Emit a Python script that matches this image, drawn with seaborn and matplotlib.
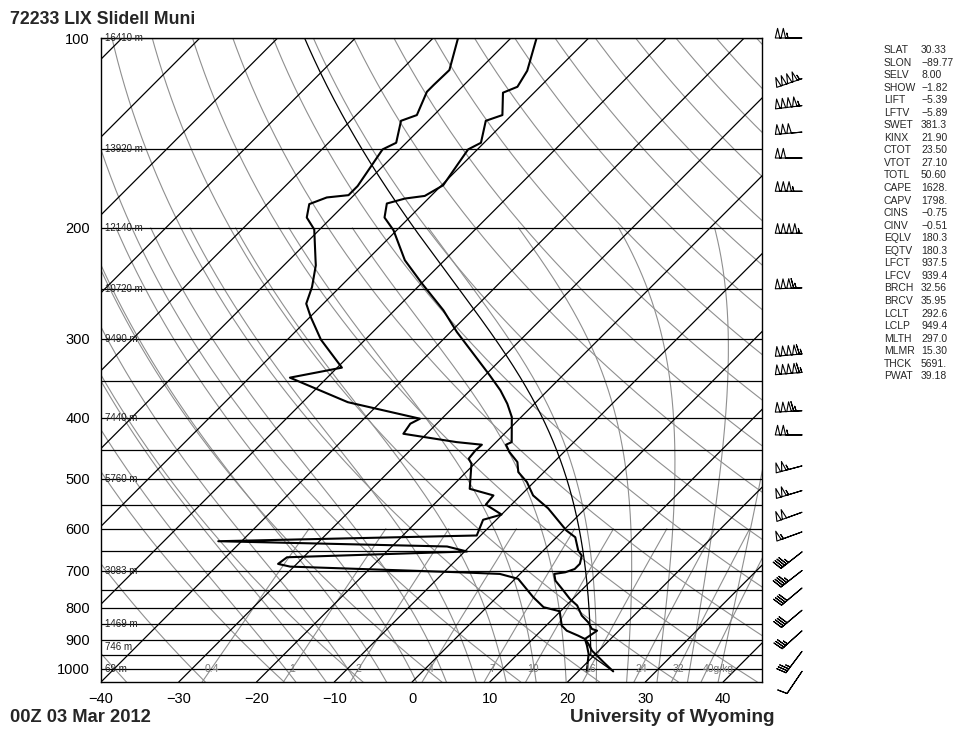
import numpy as np
import pandas as pd
import matplotlib
matplotlib.use("Agg")
import matplotlib.pyplot as plt
import seaborn as sns

# ---- sounding values (hPa, degC) ----
temp_pres = [100, 112.7, 119.5, 122.1, 132.5, 135.3, 146.6, 150.2, 171.2, 178, 179.7, 183,
             192.6, 201.8, 225.1, 245.1, 270.3, 292.5, 316.6, 342.7, 362, 380.1, 399.1,
             437.3, 441.5, 453.6, 470.4, 487.9, 506.1, 531.3, 557, 604, 619, 650, 662, 682,
             695, 703.5, 707.6, 725, 747, 775, 794, 824, 844.5, 865, 870.6, 897.3, 913.8,
             936.4, 953.6, 977, 1010]
temp_c = [-66.7, -63.7, -62.9, -64.0, -61.2, -62.6, -60.4, -61.2, -59.8, -60.8, -63.0, -64.7,
          -63.2, -60.4, -55.1, -49.9, -43.7, -39.2, -34.3, -29.4, -26.1, -23.5, -21.2,
          -18.0, -18.4, -17.0, -14.7, -13.3, -10.9, -8.4, -4.8, 0.4, 2.4, 4.5, 5.6, 6.4,
          6.4, 5.6, 4.4, 5.4, 7.3, 9.6, 11.4, 13.3, 15.0, 16.3, 17.2, 16.7, 17.8,
          19.1, 20.4, 22.1, 24.5]

dewp_pres = [100, 112.4, 118.7, 121.7, 132.5, 135.3, 146.6, 150.2, 171.7, 177.5, 179, 183.4,
             192.6, 201.2, 225, 229.3, 248.2, 263.8, 277, 300.8, 333.2, 345.6, 378, 401.5,
             408.9, 424.2, 437.3, 441.5, 450.8, 464.6, 473.2, 518.6, 531.3, 549.3, 569.7,
             580.7, 615, 628, 640.2, 652, 665.9, 682.2, 689, 703.5, 707.6, 720.5, 770.5,
             799, 811, 854.5, 870.6, 886.5, 897.3, 919, 947.7, 1010]
dewp_c = [-76.8, -73.8, -73.9, -73.9, -72.2, -73.5, -71.3, -72.2, -70.7, -70.7, -73.2, -74.6,
          -73.2, -70.7, -66.6, -65.9, -63.6, -62.2, -59.9, -55.7, -49.4, -54.8, -44.2, -32.8,
          -33.4, -33.0, -25.1, -21.5, -21.6, -21.4, -20.4, -17.4, -13.5, -13.3, -10.0,
          -11.7, -10.5, -43.0, -12.9, -9.7, -32.1, -32.4, -30.5, -7.9, -2.6, 0.4, 4.7,
          7.3, 9.9, 12.0, 13.3, 15.4, 16.7, 17.8, 19.1, 21.1]

# parcel
sfc_pres, sfc_temp = 1010.0, 24.5
lcl_pres, lcl_temp = 949.4, 19.45

height_pres = [100, 150, 200, 250, 300, 400, 500, 700, 850, 925, 1000]
height_lbl = ["16410 m", "13920 m", "12140 m", "10720 m", "9490 m", "7440 m",
              "5760 m", "3083 m", "1469 m", "746 m", "69 m"]

isobars = [100, 150, 200, 250, 300, 350, 400, 450, 500, 550, 600, 650, 700,
           750, 800, 850, 900, 950, 1000]
isotherms = list(range(-130, 50, 10))
dry_theta = list(range(-40, 200, 10))
moist_t1000 = list(range(-18, 40, 4))
mix_ratio = [0.4, 1, 2, 4, 7, 10, 16, 24, 32, 40]
mix_lbl = ["0.4", "1", "2", "4", "7", "10", "16", "24", "32", "40g/kg"]

wind_pres = [100, 116, 128, 141, 155, 175, 204, 249, 317, 339, 390, 426, 477, 522,
             565, 607, 653, 699, 745, 808, 871, 939, 1010]
wind_dir = [270, 251, 263, 265, 270, 270, 270, 268, 265, 265, 267, 270, 255, 253,
            250, 250, 232, 232, 230, 230, 228, 217, 214]
wind_kt = [105, 205, 205, 150, 100, 155, 205, 165, 215, 215, 165, 105, 105, 105,
           100, 55, 45, 45, 40, 40, 35, 35, 10]

index_names = ["SLAT", "SLON", "SELV", "SHOW", "LIFT", "LFTV", "SWET", "KINX", "CTOT",
               "VTOT", "TOTL", "CAPE", "CAPV", "CINS", "CINV", "EQLV", "EQTV", "LFCT",
               "LFCV", "BRCH", "BRCV", "LCLT", "LCLP", "MLTH", "MLMR", "THCK", "PWAT"]
index_values = ["30.33", "\u221289.77", "8.00", "\u22121.82", "\u22125.39", "\u22125.89",
                "381.3", "21.90", "23.50", "27.10", "50.60", "1628.", "1798.",
                "\u22120.75", "\u22120.51", "180.3", "180.3", "937.5", "939.4", "32.56",
                "35.95", "292.6", "949.4", "297.0", "15.30", "5691.", "39.18"]

SKEW = 81.0
P_BOT, P_TOP = 1050.0, 100.0
GRAY = "#8f8f8f"


def skew_x(t, p):
    return np.asarray(t, float) + SKEW * np.log10(P_BOT / np.asarray(p, float))


def sat_vap(tc):
    return 6.112 * np.exp(17.67 * tc / (tc + 243.5))


def dtdp(p, tk):
    rd, cp, lv, eps = 287.04, 1005.7, 2.501e6, 0.622
    es = sat_vap(tk - 273.15)
    rs = eps * es / (p - es)
    return (rd * tk + lv * rs) / (cp + lv ** 2 * rs * eps / (rd * tk ** 2)) / p


def moist_path(t_c, p_start, p_end, n=250):
    p = np.linspace(p_start, p_end, n)
    t = np.empty(n)
    t[0] = t_c + 273.15
    for i in range(n - 1):
        h = p[i + 1] - p[i]
        k1 = dtdp(p[i], t[i])
        k2 = dtdp(p[i] + h / 2, t[i] + h / 2 * k1)
        k3 = dtdp(p[i] + h / 2, t[i] + h / 2 * k2)
        k4 = dtdp(p[i] + h, t[i] + h * k3)
        t[i + 1] = t[i] + h / 6 * (k1 + 2 * k2 + 2 * k3 + k4)
    return p, t - 273.15


def mix_dewpoint(w, p):
    e = w * p / (622.0 + w)
    ln = np.log(e / 6.112)
    return 243.5 * ln / (17.67 - ln)


sns.set_style("white")
plt.rcParams["font.family"] = ["Liberation Sans", "DejaVu Sans"]

fig = plt.figure(figsize=(9.67, 7.32), dpi=100)
ax = fig.add_axes([101 / 967, 1 - 682 / 732, 661 / 967, 644 / 732])
ax.set_yscale("log")

# background lines
pgrid = np.geomspace(P_BOT, P_TOP, 200)
for th in dry_theta:
    t = (th + 273.15) * (pgrid / 1000.0) ** 0.2857 - 273.15
    ax.plot(skew_x(t, pgrid), pgrid, color=GRAY, lw=0.8, zorder=1)

for t0 in moist_t1000:
    pd_, td_ = moist_path(t0, 1000.0, P_BOT, 20)
    pu_, tu_ = moist_path(t0, 1000.0, 200.0, 250)
    pp = np.concatenate([pd_[::-1], pu_[1:]])
    tt = np.concatenate([td_[::-1], tu_[1:]])
    ax.plot(skew_x(tt, pp), pp, color=GRAY, lw=0.8, zorder=1)

pmix = np.linspace(P_BOT, 600.0, 50)
for w in mix_ratio:
    ax.plot(skew_x(mix_dewpoint(w, pmix), pmix), pmix, color=GRAY, lw=0.8, zorder=1)

for t in isotherms:
    ax.plot(skew_x([t, t], [P_BOT, P_TOP]), [P_BOT, P_TOP], color="black", lw=0.9, zorder=2)
for p in isobars:
    ax.axhline(p, color="black", lw=0.9, zorder=2)

# parcel path
p_dry = np.linspace(sfc_pres, lcl_pres, 10)
t_dry = (sfc_temp + 273.15) * (p_dry / sfc_pres) ** 0.2857 - 273.15
p_wet, t_wet = moist_path(lcl_temp, lcl_pres, P_TOP, 400)
parcel = pd.DataFrame({"p": np.concatenate([p_dry, p_wet]),
                       "t": np.concatenate([t_dry, t_wet])})
parcel["x"] = skew_x(parcel["t"], parcel["p"])
sns.lineplot(data=parcel, x="x", y="p", sort=False, estimator=None, color="black",
             lw=0.9, ax=ax, zorder=3)

# temperature and dewpoint
snd_t = pd.DataFrame({"p": temp_pres, "x": skew_x(temp_c, temp_pres)})
snd_d = pd.DataFrame({"p": dewp_pres, "x": skew_x(dewp_c, dewp_pres)})
sns.lineplot(data=snd_t, x="x", y="p", sort=False, estimator=None, color="black",
             lw=1.5, ax=ax, zorder=4)
sns.lineplot(data=snd_d, x="x", y="p", sort=False, estimator=None, color="black",
             lw=1.5, ax=ax, zorder=4)

ax.set_xlim(-40, 45)
ax.set_ylim(P_BOT, P_TOP)
ax.set_xticks(range(-40, 50, 10))
ax.set_yticks(range(100, 1100, 100))
ax.set_yticklabels([str(v) for v in range(100, 1100, 100)])
ax.yaxis.set_minor_locator(matplotlib.ticker.NullLocator())
ax.tick_params(axis="both", length=0, labelsize=10.5, colors="black")
ax.tick_params(axis="x", pad=7)
ax.tick_params(axis="y", pad=8)
ax.set_xlabel("")
ax.set_ylabel("")
for s in ax.spines.values():
    s.set_color("black")
    s.set_linewidth(1.0)

# height labels
for p, lbl in zip(height_pres, height_lbl):
    ax.text(-39.5, p, lbl, fontsize=7, va="center", ha="left", color="#222222", zorder=5)

# mixing ratio labels
for w, lbl in zip(mix_ratio, mix_lbl):
    xm = skew_x(mix_dewpoint(w, 1000.0), 1000.0)
    if lbl.endswith("g/kg"):
        ax.text(xm - 0.6, 1000, lbl, fontsize=7.5, va="center", ha="left", color="#777777", zorder=5)
    else:
        ax.text(xm, 1000, lbl, fontsize=7.5, va="center", ha="center", color="#777777", zorder=5)

# wind barbs
bx = fig.add_axes([770 / 967, 1 - 682 / 732, 40 / 967, 644 / 732], sharey=ax)
bx.set_xlim(0, 1)
bx.axis("off")
wd = np.radians(wind_dir)
u = -np.array(wind_kt) * np.sin(wd)
v = -np.array(wind_kt) * np.cos(wd)
bx.barbs(np.full(len(wind_pres), 0.8), wind_pres, u, v, length=6.2, lw=0.8,
         barbcolor="black", flagcolor="none", clip_on=False,
         sizes=dict(spacing=0.09, height=0.36, width=0.17))

# text
fig.text(10 / 967, 1 - 20 / 732, "72233 LIX Slidell Muni", fontsize=12.8, fontweight="bold",
         va="center", ha="left")
fig.text(10 / 967, 1 - 717 / 732, "00Z 03 Mar 2012", fontsize=13.2, fontweight="bold",
         va="center", ha="left")
fig.text(570 / 967, 1 - 717 / 732, "University of Wyoming", fontsize=13.6, fontweight="bold",
         va="center", ha="left")
for i, (nm, val) in enumerate(zip(index_names, index_values)):
    yy = 1 - (50 + i * 12.55) / 732
    fig.text(884 / 967, yy, nm, fontsize=7.5, va="center", ha="left")
    fig.text(921 / 967, yy, val, fontsize=7.5, va="center", ha="left")

fig.savefig("out.png", dpi=100)
